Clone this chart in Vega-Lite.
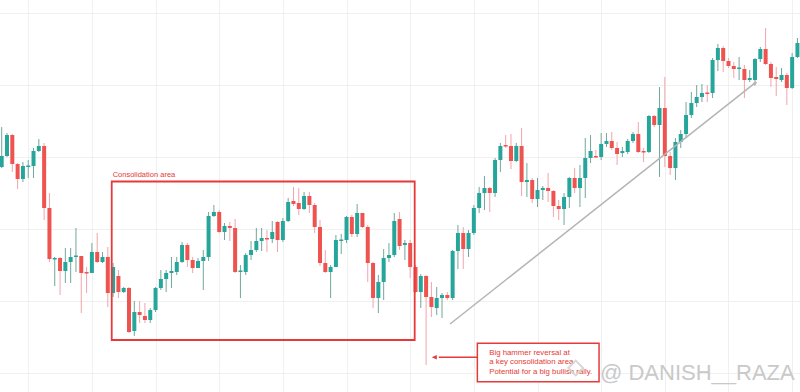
{
  "$schema": "https://vega.github.io/schema/vega-lite/v6.json",
  "width": 800,
  "height": 392,
  "autosize": {"type": "none"},
  "padding": 0,
  "background": "#ffffff",
  "config": {
    "view": {"stroke": null},
    "axis": {"labels": false, "ticks": false, "domain": false, "title": null, "grid": true, "gridColor": "#f0f0f0", "gridWidth": 1}
  },
  "datasets": {
    "candles": [
      {"i":1,"o":233,"h":273,"l":232,"c":244},
      {"i":2,"o":244,"h":267,"l":243,"c":265},
      {"i":3,"o":265,"h":266,"l":228,"c":236},
      {"i":4,"o":236,"h":237,"l":211,"c":221},
      {"i":5,"o":221,"h":238,"l":218,"c":234},
      {"i":6,"o":233,"h":240,"l":222,"c":234.5},
      {"i":7,"o":234,"h":252,"l":222,"c":249},
      {"i":8,"o":249,"h":261,"l":248,"c":254},
      {"i":9,"o":254,"h":257,"l":180,"c":192},
      {"i":10,"o":192,"h":207,"l":138,"c":141},
      {"i":11,"o":140.5,"h":143,"l":114,"c":142},
      {"i":12,"o":142,"h":143,"l":105,"c":129},
      {"i":13,"o":129,"h":152,"l":117,"c":138},
      {"i":14,"o":138,"h":152,"l":117,"c":143},
      {"i":15,"o":143,"h":172,"l":128,"c":144.5},
      {"i":16,"o":144,"h":144,"l":87,"c":127},
      {"i":17,"o":128,"h":133,"l":107,"c":126.5},
      {"i":18,"o":127,"h":157,"l":127,"c":148},
      {"i":19,"o":148,"h":167,"l":137,"c":138},
      {"i":20,"o":138,"h":148,"l":137,"c":143},
      {"i":21,"o":143,"h":153,"l":93,"c":107},
      {"i":22,"o":107,"h":137,"l":103,"c":133},
      {"i":23,"o":124,"h":130,"l":102,"c":108},
      {"i":24,"o":108,"h":113,"l":107,"c":112},
      {"i":25,"o":112,"h":113,"l":67,"c":68},
      {"i":26,"o":69,"h":99,"l":64,"c":88},
      {"i":27,"o":88,"h":99,"l":77,"c":85},
      {"i":28,"o":84,"h":97,"l":77,"c":80},
      {"i":29,"o":80,"h":92,"l":77,"c":90},
      {"i":30,"o":90,"h":113,"l":88,"c":112},
      {"i":31,"o":112,"h":130,"l":110,"c":121},
      {"i":32,"o":121,"h":130,"l":108,"c":127},
      {"i":33,"o":127,"h":143,"l":112,"c":129},
      {"i":34,"o":128,"h":143,"l":125,"c":138},
      {"i":35,"o":138,"h":158,"l":137,"c":155},
      {"i":36,"o":155,"h":157,"l":133,"c":140},
      {"i":37,"o":140,"h":143,"l":127,"c":132},
      {"i":38,"o":132,"h":142,"l":132,"c":139},
      {"i":39,"o":139,"h":150,"l":110,"c":143},
      {"i":40,"o":143,"h":188,"l":139,"c":184},
      {"i":41,"o":184,"h":195,"l":183,"c":188},
      {"i":42,"o":188,"h":190,"l":167,"c":168},
      {"i":43,"o":168,"h":177,"l":160,"c":174},
      {"i":44,"o":174,"h":178,"l":159,"c":172},
      {"i":45,"o":172,"h":181,"l":127,"c":128},
      {"i":46,"o":128,"h":135,"l":102,"c":129.5},
      {"i":47,"o":128,"h":147,"l":125,"c":145},
      {"i":48,"o":145,"h":159,"l":140,"c":150},
      {"i":49,"o":150,"h":172,"l":148,"c":159},
      {"i":50,"o":159,"h":172,"l":149,"c":162},
      {"i":51,"o":162,"h":170,"l":148,"c":160.5},
      {"i":52,"o":161,"h":179,"l":157,"c":168},
      {"i":53,"o":178,"h":179,"l":148,"c":160},
      {"i":54,"o":160,"h":182,"l":158,"c":179},
      {"i":55,"o":179,"h":202,"l":178,"c":198},
      {"i":56,"o":199,"h":213,"l":194,"c":196},
      {"i":57,"o":197,"h":212,"l":185,"c":191},
      {"i":58,"o":191,"h":208,"l":190,"c":204},
      {"i":59,"o":204,"h":208,"l":187,"c":195},
      {"i":60,"o":195,"h":197,"l":167,"c":173},
      {"i":61,"o":173,"h":180,"l":134,"c":137},
      {"i":62,"o":137,"h":150,"l":127,"c":128},
      {"i":63,"o":128,"h":135,"l":102,"c":133},
      {"i":64,"o":133,"h":165,"l":133,"c":160},
      {"i":65,"o":159,"h":166,"l":146,"c":160.5},
      {"i":66,"o":160,"h":184,"l":157,"c":183},
      {"i":67,"o":183,"h":185,"l":163,"c":166},
      {"i":68,"o":166,"h":196,"l":163,"c":187},
      {"i":69,"o":187,"h":187,"l":172,"c":173},
      {"i":70,"o":173,"h":175,"l":118,"c":137},
      {"i":71,"o":137,"h":138,"l":92,"c":102},
      {"i":72,"o":102,"h":125,"l":87,"c":118},
      {"i":73,"o":118,"h":151,"l":100,"c":142},
      {"i":74,"o":142,"h":157,"l":138,"c":145},
      {"i":75,"o":145,"h":187,"l":143,"c":179},
      {"i":76,"o":181,"h":188,"l":150,"c":154},
      {"i":77,"o":155,"h":160,"l":140,"c":157},
      {"i":78,"o":157,"h":160,"l":122,"c":133},
      {"i":79,"o":133,"h":135,"l":107,"c":108},
      {"i":80,"o":108,"h":126,"l":92,"c":124},
      {"i":81,"o":124,"h":125,"l":35,"c":103},
      {"i":82,"o":103,"h":118,"l":83,"c":93},
      {"i":83,"o":92,"h":113,"l":85,"c":102},
      {"i":84,"o":102,"h":107,"l":82,"c":105},
      {"i":85,"o":105,"h":108,"l":100,"c":102},
      {"i":86,"o":102,"h":150,"l":100,"c":149},
      {"i":87,"o":149,"h":175,"l":131,"c":167},
      {"i":88,"o":167,"h":173,"l":131,"c":151},
      {"i":89,"o":151,"h":170,"l":143,"c":167},
      {"i":90,"o":167,"h":195,"l":165,"c":192},
      {"i":91,"o":192,"h":213,"l":187,"c":207},
      {"i":92,"o":207,"h":224,"l":190,"c":212},
      {"i":93,"o":212,"h":213,"l":188,"c":207},
      {"i":94,"o":207,"h":242,"l":203,"c":240},
      {"i":95,"o":240,"h":257,"l":228,"c":254},
      {"i":96,"o":255,"h":265,"l":252,"c":253.5},
      {"i":97,"o":254,"h":266,"l":231,"c":239},
      {"i":98,"o":239,"h":257,"l":238,"c":254},
      {"i":99,"o":254,"h":272,"l":204,"c":218},
      {"i":100,"o":218,"h":237,"l":203,"c":220},
      {"i":101,"o":220,"h":222,"l":197,"c":201},
      {"i":102,"o":201,"h":222,"l":193,"c":210},
      {"i":103,"o":210,"h":214,"l":200,"c":212},
      {"i":104,"o":212,"h":227,"l":198,"c":209},
      {"i":105,"o":209,"h":210,"l":183,"c":194},
      {"i":106,"o":194,"h":200,"l":180,"c":191},
      {"i":107,"o":191,"h":207,"l":175,"c":203},
      {"i":108,"o":203,"h":223,"l":192,"c":222},
      {"i":109,"o":222,"h":232,"l":207,"c":212},
      {"i":110,"o":212,"h":235,"l":193,"c":222},
      {"i":111,"o":222,"h":262,"l":202,"c":242},
      {"i":112,"o":242,"h":265,"l":237,"c":249},
      {"i":113,"o":244,"h":250,"l":242,"c":242.5},
      {"i":114,"o":243,"h":267,"l":240,"c":256},
      {"i":115,"o":256,"h":267,"l":253,"c":259},
      {"i":116,"o":259,"h":268,"l":250,"c":252},
      {"i":117,"o":252,"h":258,"l":235,"c":246},
      {"i":118,"o":247,"h":253,"l":243,"c":249},
      {"i":119,"o":248,"h":261,"l":246,"c":259},
      {"i":120,"o":259,"h":268,"l":257,"c":266},
      {"i":121,"o":266,"h":278,"l":247,"c":248},
      {"i":122,"o":249,"h":252,"l":238,"c":247.5},
      {"i":123,"o":248,"h":285,"l":247,"c":284},
      {"i":124,"o":284,"h":285,"l":273,"c":275},
      {"i":125,"o":275,"h":313,"l":223,"c":292},
      {"i":126,"o":292,"h":323,"l":233,"c":244},
      {"i":127,"o":244,"h":248,"l":225,"c":232},
      {"i":128,"o":232,"h":262,"l":220,"c":258},
      {"i":129,"o":258,"h":270,"l":252,"c":266},
      {"i":130,"o":266,"h":298,"l":262,"c":285},
      {"i":131,"o":285,"h":308,"l":282,"c":297},
      {"i":132,"o":297,"h":315,"l":293,"c":303},
      {"i":133,"o":303,"h":316,"l":298,"c":307},
      {"i":134,"o":307.5,"h":315,"l":298,"c":306},
      {"i":135,"o":307,"h":342,"l":302,"c":340},
      {"i":136,"o":340,"h":356,"l":329,"c":352},
      {"i":137,"o":352,"h":354,"l":328,"c":339},
      {"i":138,"o":339,"h":342,"l":332,"c":334},
      {"i":139,"o":334,"h":338,"l":322,"c":331},
      {"i":140,"o":331,"h":343,"l":320,"c":332.5},
      {"i":141,"o":331,"h":335,"l":302,"c":320},
      {"i":142,"o":320,"h":330,"l":318,"c":322},
      {"i":143,"o":320,"h":342,"l":318,"c":341},
      {"i":144,"o":341,"h":353,"l":338,"c":351},
      {"i":145,"o":351,"h":372,"l":335,"c":336},
      {"i":146,"o":336,"h":338,"l":313,"c":322},
      {"i":147,"o":323,"h":333,"l":304,"c":321},
      {"i":148,"o":320,"h":332,"l":318,"c":325},
      {"i":149,"o":325,"h":327,"l":295,"c":312},
      {"i":150,"o":312,"h":347,"l":311,"c":343},
      {"i":151,"o":343,"h":362,"l":342,"c":357}
    ]
  },
  "layer": [
    {
      "data": {"name": "candles"},
      "mark": {"type": "rule", "strokeWidth": 1},
      "encoding": {
        "x": {"field": "i", "type": "quantitative", "scale": {"domain": [0.68, 151.48], "nice": false, "zero": false, "padding": 0},
              "axis": {"values": [6,12,18,24,30,36,42,48,54,60,66,72,78,84,90,96,102,108,114,120,126,132,138,144,150]}},
        "y": {"field": "h", "type": "quantitative", "scale": {"domain": [8, 400], "nice": false, "zero": false, "padding": 0},
              "axis": {"values": [27,63,99,135,171,207,243,279,315,351,387]}},
        "y2": {"field": "l"},
        "stroke": {"condition": {"test": "datum.c >= datum.o", "value": "#6fa89c"}, "value": "#f3a3aa"}
      }
    },
    {
      "data": {"name": "candles"},
      "mark": {"type": "bar", "width": 4},
      "encoding": {
        "x": {"field": "i", "type": "quantitative"},
        "y": {"field": "o", "type": "quantitative"},
        "y2": {"field": "c"},
        "fill": {"condition": {"test": "datum.c >= datum.o", "value": "#26a69a"}, "value": "#ef5350"}
      }
    },
    {
      "data": {"values": [{"x1": 21.74, "x2": 78.85, "y1": 218.5, "y2": 60}]},
      "mark": {"type": "rect", "filled": false, "stroke": "#e8393a", "strokeWidth": 1.8},
      "encoding": {
        "x": {"field": "x1", "type": "quantitative"},
        "x2": {"field": "x2"},
        "y": {"field": "y1", "type": "quantitative"},
        "y2": {"field": "y2"}
      }
    },
    {
      "data": {"values": [{"x": 21.92, "y": 223.5, "t": "Consolidation area"}]},
      "mark": {"type": "text", "align": "left", "baseline": "alphabetic", "fontSize": 7.5, "font": "Liberation Sans", "color": "#e53935"},
      "encoding": {
        "x": {"field": "x", "type": "quantitative"},
        "y": {"field": "y", "type": "quantitative"},
        "text": {"field": "t"}
      }
    },
    {
      "data": {"values": [{"x1": 85.51, "y1": 76, "x2": 143.2, "y2": 317.8}]},
      "mark": {"type": "rule", "stroke": "#b4b4b4", "strokeWidth": 1.5},
      "encoding": {
        "x": {"field": "x1", "type": "quantitative"},
        "x2": {"field": "x2"},
        "y": {"field": "y1", "type": "quantitative"},
        "y2": {"field": "y2"}
      }
    },
    {
      "data": {"values": [{"x": 143.4, "y": 318}]},
      "mark": {"type": "point", "shape": "M0,0 L-0.5,1.1 L0.5,1.1 Z", "filled": true, "color": "#b4b4b4", "opacity": 1, "size": 60, "angle": 51.7},
      "encoding": {
        "x": {"field": "x", "type": "quantitative"},
        "y": {"field": "y", "type": "quantitative"}
      }
    },
    {
      "data": {"values": [{"x1": 90.66, "x2": 113.6, "y1": 56.7, "y2": 18.3}]},
      "mark": {"type": "rect", "fill": "#ffffff", "stroke": "#e8393a", "strokeWidth": 1.5},
      "encoding": {
        "x": {"field": "x1", "type": "quantitative"},
        "x2": {"field": "x2"},
        "y": {"field": "y1", "type": "quantitative"},
        "y2": {"field": "y2"}
      }
    },
    {
      "data": {"values": [{"x1": 90.65, "x2": 83.4, "y": 42.7}]},
      "mark": {"type": "rule", "stroke": "#e8393a", "strokeWidth": 1.5},
      "encoding": {
        "x": {"field": "x1", "type": "quantitative"},
        "x2": {"field": "x2"},
        "y": {"field": "y", "type": "quantitative"}
      }
    },
    {
      "data": {"values": [{"x": 82.06, "y": 42.7}]},
      "mark": {"type": "point", "shape": "M0,0 L1.1,-0.5 L1.1,0.5 Z", "filled": true, "color": "#e8393a", "opacity": 1, "size": 85},
      "encoding": {
        "x": {"field": "x", "type": "quantitative"},
        "y": {"field": "y", "type": "quantitative"}
      }
    },
    {
      "data": {"values": [
        {"x": 92.9, "y": 46.7, "t": "Big hammer reversal at"},
        {"x": 92.9, "y": 37.7, "t": "a key consolidation area"},
        {"x": 92.9, "y": 28.3, "t": "Potential for a big bullish rally."}
      ]},
      "mark": {"type": "text", "align": "left", "baseline": "middle", "fontSize": 7.8, "font": "Liberation Sans", "color": "#e53935"},
      "encoding": {
        "x": {"field": "x", "type": "quantitative"},
        "y": {"field": "y", "type": "quantitative"},
        "text": {"field": "t"}
      }
    },
    {
      "data": {"values": [{"x": 109.2, "y": 32}]},
      "mark": {"type": "point", "shape": "diamond", "filled": false, "stroke": "#d4d4d4", "strokeWidth": 2, "opacity": 0.9, "size": 220},
      "encoding": {
        "x": {"field": "x", "type": "quantitative"},
        "y": {"field": "y", "type": "quantitative"}
      }
    },
    {
      "data": {"values": [{"x": 113.78, "y": 20.5, "t": "@ DANISH__RAZA"}]},
      "mark": {"type": "text", "align": "left", "baseline": "alphabetic", "fontSize": 22, "font": "Liberation Sans", "color": "#c4c4c4", "opacity": 0.9},
      "encoding": {
        "x": {"field": "x", "type": "quantitative"},
        "y": {"field": "y", "type": "quantitative"},
        "text": {"field": "t"}
      }
    }
  ]
}
